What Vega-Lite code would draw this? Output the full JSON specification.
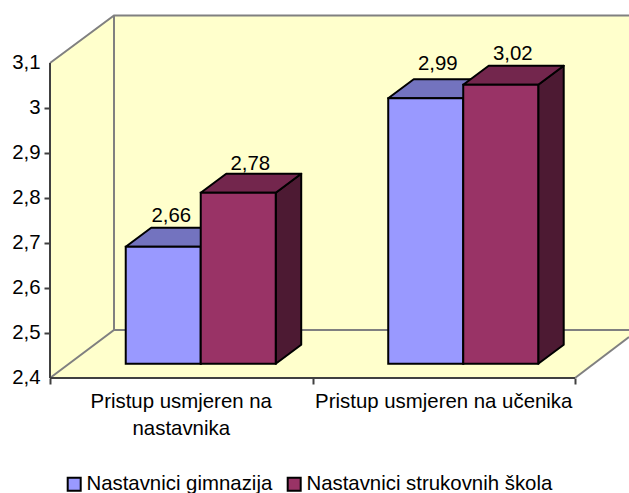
{
  "$schema": "https://vega.github.io/schema/vega-lite/v6.json",
  "width": 629,
  "height": 493,
  "padding": 0,
  "autosize": {"type": "none"},
  "background": "white",
  "config": {"view": {"stroke": null}},
  "datasets": {
    "bars": [
      {"category": "Pristup usmjeren na nastavnika", "series": "Nastavnici gimnazija", "value": 2.66},
      {"category": "Pristup usmjeren na nastavnika", "series": "Nastavnici strukovnih škola", "value": 2.78},
      {"category": "Pristup usmjeren na učenika", "series": "Nastavnici gimnazija", "value": 2.99},
      {"category": "Pristup usmjeren na učenika", "series": "Nastavnici strukovnih škola", "value": 3.02}
    ],
    "categories": [
      {"category": "Pristup usmjeren na nastavnika", "label": "Pristup usmjeren na\nnastavnika", "px": 0.5},
      {"category": "Pristup usmjeren na učenika", "label": "Pristup usmjeren na učenika", "px": 1.5}
    ],
    "wallFill": [
      {"wall": "left", "px": 0, "py": 2.4, "high": 3.1},
      {"wall": "left", "px": 0.2438, "py": 2.5067, "high": 3.2056},
      {"wall": "back", "px": 0.2438, "py": 2.5067, "high": 3.2056},
      {"wall": "back", "px": 2.2057, "py": 2.5067, "high": 3.2056},
      {"wall": "floor", "px": 0, "py": 2.4, "high": 2.4},
      {"wall": "floor", "px": 0.2438, "py": 2.4, "high": 2.5067},
      {"wall": "floor", "px": 2, "py": 2.4, "high": 2.5067},
      {"wall": "floor", "px": 2.2057, "py": 2.4911, "high": 2.5067}
    ],
    "edges": [
      {"edge": "a", "kind": "wall", "px": 0, "py": 3.1},
      {"edge": "a", "kind": "wall", "px": 0.2438, "py": 3.2056},
      {"edge": "a", "kind": "wall", "px": 2.2057, "py": 3.2056},
      {"edge": "b", "kind": "wall", "px": 0.2438, "py": 3.2056},
      {"edge": "b", "kind": "wall", "px": 0.2438, "py": 2.5067},
      {"edge": "c", "kind": "wall", "px": 0, "py": 2.4},
      {"edge": "c", "kind": "wall", "px": 0.2438, "py": 2.5067},
      {"edge": "c", "kind": "wall", "px": 2.2057, "py": 2.5067},
      {"edge": "d", "kind": "wall", "px": 2, "py": 2.4},
      {"edge": "d", "kind": "wall", "px": 2.2057, "py": 2.4911},
      {"edge": "e", "kind": "axis", "px": 0, "py": 2.4},
      {"edge": "e", "kind": "axis", "px": 0, "py": 3.1},
      {"edge": "f", "kind": "axis", "px": 0, "py": 2.4},
      {"edge": "f", "kind": "axis", "px": 2, "py": 2.4}
    ]
  },
  "encoding": {
    "x": {
      "field": "px", "type": "quantitative",
      "scale": {"domain": [-0.190476, 2.205714], "nice": false, "zero": false},
      "axis": {"title": null, "values": [0, 1, 2], "labels": false, "domain": false, "grid": false, "offset": -115, "tickColor": "#404040", "tickWidth": 2, "tickSize": 6}
    },
    "y": {
      "field": "py", "type": "quantitative",
      "scale": {"domain": [2.144444, 3.24], "nice": false, "zero": false},
      "axis": {
        "title": null, "values": [2.4, 2.5, 2.6, 2.7, 2.8, 2.9, 3, 3.1], "domain": false, "grid": false, "offset": -50,
        "tickColor": "#404040", "tickWidth": 2, "tickSize": 6, "labelPadding": 4,
        "tickOpacity": {"condition": {"test": "datum.value > 3.05 || datum.value < 2.45", "value": 0}, "value": 1},
        "labelFont": "Liberation Sans", "labelFontSize": 20.4, "labelColor": "black",
        "labelExpr": "replace(format(datum.value, '.2~f'), '.', ',')"
      }
    }
  },
  "layer": [
    {
      "data": {"name": "wallFill"},
      "mark": {"type": "area", "color": "#FFFFCC", "opacity": 1},
      "encoding": {
        "y2": {"field": "high"},
        "detail": {"field": "wall"}
      }
    },
    {
      "data": {"name": "edges"},
      "transform": [{"window": [{"op": "row_number", "as": "ord"}]}],
      "mark": {"type": "line", "strokeWidth": 2},
      "encoding": {
        "detail": {"field": "edge"},
        "order": {"field": "ord"},
        "color": {"field": "kind", "type": "nominal", "scale": {"domain": ["wall", "axis"], "range": ["#808080", "#404040"]}, "legend": null}
      }
    },
    {
      "data": {"name": "bars"},
      "transform": [
        {"calculate": "(datum.category == 'Pristup usmjeren na učenika' ? 1 : 0) + 0.2885 + (datum.series == 'Nastavnici gimnazija' ? 0 : 0.2857)", "as": "x0"},
        {"calculate": "[0, 1]", "as": "t"},
        {"flatten": ["t"]},
        {"calculate": "datum.x0 + 0.2857 + datum.t * 0.0971", "as": "px"},
        {"calculate": "2.4318 + datum.t * 0.0422", "as": "py"},
        {"calculate": "datum.value + 0.0318 + datum.t * 0.0422", "as": "high"},
        {"calculate": "datum.category + datum.series", "as": "id"}
      ],
      "mark": {"type": "area", "stroke": "black", "strokeWidth": 2, "strokeJoin": "round", "opacity": 1},
      "encoding": {
        "y2": {"field": "high"},
        "detail": {"field": "id"},
        "color": {"field": "series", "type": "nominal", "scale": {"domain": ["Nastavnici gimnazija", "Nastavnici strukovnih škola"], "range": ["#4D4D80", "#4D1A33"]}, "legend": null}
      }
    },
    {
      "data": {"name": "bars"},
      "transform": [
        {"calculate": "(datum.category == 'Pristup usmjeren na učenika' ? 1 : 0) + 0.2885 + (datum.series == 'Nastavnici gimnazija' ? 0 : 0.2857)", "as": "x0"},
        {"calculate": "[0, 1]", "as": "t"},
        {"flatten": ["t"]},
        {"calculate": "datum.x0 + datum.t * 0.0971", "as": "px"},
        {"calculate": "datum.px + 0.2857", "as": "pxb"},
        {"calculate": "datum.value + 0.0318 + datum.t * 0.0422", "as": "py"},
        {"calculate": "datum.category + datum.series", "as": "id"}
      ],
      "mark": {"type": "area", "orient": "horizontal", "stroke": "black", "strokeWidth": 2, "strokeJoin": "round", "opacity": 1},
      "encoding": {
        "x2": {"field": "pxb"},
        "detail": {"field": "id"},
        "color": {"field": "series", "type": "nominal", "scale": {"domain": ["Nastavnici gimnazija", "Nastavnici strukovnih škola"], "range": ["#7373BF", "#73264D"]}, "legend": null}
      }
    },
    {
      "data": {"name": "bars"},
      "transform": [
        {"calculate": "(datum.category == 'Pristup usmjeren na učenika' ? 1 : 0) + 0.2885 + (datum.series == 'Nastavnici gimnazija' ? 0 : 0.2857)", "as": "px"},
        {"calculate": "datum.px + 0.2857", "as": "x1"},
        {"calculate": "datum.value + 0.0318", "as": "py"},
        {"calculate": "2.4318", "as": "base"}
      ],
      "mark": {"type": "bar", "stroke": "black", "strokeWidth": 2, "opacity": 1},
      "encoding": {
        "x2": {"field": "x1"},
        "y2": {"field": "base"},
        "color": {
          "field": "series", "type": "nominal",
          "scale": {"domain": ["Nastavnici gimnazija", "Nastavnici strukovnih škola"], "range": ["#9999FF", "#993366"]},
          "legend": {
            "orient": "none", "legendX": 64, "legendY": 474, "direction": "horizontal", "columns": 2, "title": null,
            "symbolType": "square", "symbolSize": 169, "symbolStrokeColor": "black", "symbolStrokeWidth": 2, "symbolOpacity": 1,
            "labelFont": "Liberation Sans", "labelFontSize": 20.4, "labelColor": "black", "labelLimit": 400, "labelOffset": 2, "columnPadding": 10
          }
        }
      }
    },
    {
      "data": {"name": "bars"},
      "transform": [
        {"calculate": "(datum.category == 'Pristup usmjeren na učenika' ? 1 : 0) + 0.2885 + (datum.series == 'Nastavnici gimnazija' ? 0 : 0.2857) + 0.1428 + 0.046 + (datum.value == 2.66 ? -0.015 : 0)", "as": "px"},
        {"calculate": "datum.value + 0.0862 + (datum.value == 2.99 ? 0.008 : datum.value == 2.78 ? -0.004 : 0)", "as": "py"},
        {"calculate": "replace(format(datum.value, '.2f'), '.', ',')", "as": "txt"}
      ],
      "mark": {"type": "text", "font": "Liberation Sans", "fontSize": 20.4, "align": "center", "baseline": "alphabetic", "color": "black"},
      "encoding": {
        "text": {"field": "txt"}
      }
    },
    {
      "data": {"name": "categories"},
      "transform": [{"calculate": "2.3333", "as": "py"}],
      "mark": {"type": "text", "font": "Liberation Sans", "fontSize": 20.4, "align": "center", "baseline": "alphabetic", "color": "black", "lineBreak": "\n", "lineHeight": 27},
      "encoding": {
        "text": {"field": "label"}
      }
    }
  ],
  "resolve": {"scale": {"color": "independent"}}
}
